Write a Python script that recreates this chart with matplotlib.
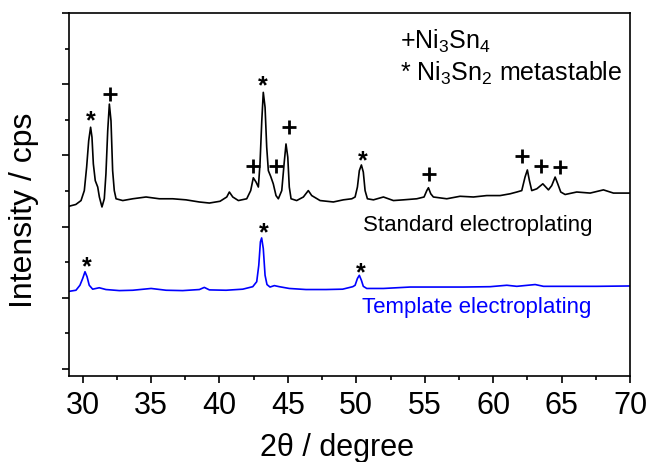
import matplotlib
matplotlib.use("Agg")
import matplotlib.pyplot as plt
from matplotlib.ticker import MultipleLocator

plt.rcParams['font.family'] = ['Liberation Sans', 'DejaVu Sans']
plt.rcParams['mathtext.fontset'] = 'custom'
plt.rcParams['mathtext.rm'] = 'Liberation Sans'
plt.rcParams['mathtext.it'] = 'Liberation Sans:italic'
plt.rcParams['mathtext.bf'] = 'Liberation Sans:bold'
plt.rcParams['mathtext.default'] = 'regular'

# ---- data ----
std_x = [29.0, 29.5, 29.88, 30.12, 30.29, 30.44, 30.58, 30.68, 30.78, 30.92, 31.1, 31.22,
         31.41, 31.58, 31.7, 31.83, 31.95, 32.07, 32.19, 32.31, 32.44, 32.93, 33.66, 34.63,
         35.6, 36.58, 37.55, 38.52, 39.26, 40.04, 40.53, 40.72, 40.97, 41.38, 41.99, 42.28,
         42.47, 42.67, 42.84, 42.96, 43.09, 43.2, 43.33, 43.45, 43.57, 43.74, 43.93, 44.13,
         44.3, 44.55, 44.72, 44.86, 44.99, 45.1, 45.23, 45.64, 46.13, 46.49, 46.74, 47.35,
         48.32, 49.05, 49.67, 49.91, 50.08, 50.22, 50.37, 50.51, 50.64, 50.81, 51.25, 51.98,
         52.71, 53.44, 54.42, 54.95, 55.15, 55.27, 55.44, 55.63, 56.61, 57.58, 58.56, 59.53,
         60.51, 61.24, 61.73, 62.09, 62.33, 62.5, 62.65, 62.82, 63.19, 63.63, 64.04, 64.28,
         64.53, 64.72, 64.94, 65.26, 66.11, 67.09, 68.06, 68.79, 69.77, 70.0]
std_y = [4.57, 4.62, 4.73, 5.01, 5.67, 6.41, 6.79, 6.51, 5.76, 5.29, 5.11, 4.83,
         4.55, 4.78, 5.48, 6.69, 7.44, 6.97, 5.57, 5.01, 4.78, 4.73, 4.78, 4.83,
         4.78, 4.78, 4.75, 4.69, 4.66, 4.71, 4.83, 4.97, 4.83, 4.73, 4.78, 5.01,
         5.37, 5.25, 5.11, 5.76, 6.97, 7.77, 7.35, 6.23, 5.57, 5.41, 5.2, 4.87,
         4.78, 5.01, 5.76, 6.32, 5.95, 5.11, 4.78, 4.73, 4.83, 5.01, 4.87, 4.73,
         4.69, 4.75, 4.78, 4.83, 5.11, 5.57, 5.73, 5.53, 5.01, 4.78, 4.75, 4.83,
         4.73, 4.75, 4.78, 4.83, 5.01, 5.09, 4.92, 4.83, 4.78, 4.85, 4.83, 4.87,
         4.87, 4.92, 4.97, 5.01, 5.39, 5.59, 5.29, 5.01, 5.06, 5.2, 5.03, 5.15,
         5.39, 5.2, 4.97, 4.9, 4.97, 4.94, 5.03, 4.94, 4.94, 4.94]

tpl_x = [29.02, 29.51, 29.8, 30.0, 30.17, 30.32, 30.48, 30.73, 31.21, 31.7, 32.68, 33.66,
         35.0, 36.1, 37.31, 38.53, 38.89, 39.26, 40.48, 41.7, 42.43, 42.72, 42.87, 42.99,
         43.08, 43.2, 43.33, 43.47, 43.69, 44.01, 44.37, 45.1, 46.32, 47.79, 49.0, 49.74,
         49.91, 50.08, 50.22, 50.37, 50.51, 50.76, 51.98, 53.93, 55.88, 57.82, 59.78, 61.0,
         61.73, 63.07, 63.68, 65.38, 67.57, 70.0]
tpl_y = [2.18, 2.21, 2.35, 2.54, 2.73, 2.59, 2.35, 2.24, 2.28, 2.23, 2.2, 2.21,
         2.26, 2.21, 2.2, 2.23, 2.29, 2.22, 2.21, 2.24, 2.31, 2.45, 2.91, 3.57,
         3.68, 3.38, 2.63, 2.37, 2.3, 2.34, 2.31, 2.26, 2.23, 2.23, 2.24, 2.31,
         2.35, 2.54, 2.63, 2.49, 2.32, 2.26, 2.26, 2.3, 2.3, 2.3, 2.31, 2.35,
         2.32, 2.37, 2.32, 2.32, 2.32, 2.33]

std_star_x = [30.6, 43.18, 50.47]
std_star_y = [7.16, 8.15, 6.04]
std_plus_x = [32.02, 42.43, 44.13, 45.1, 55.34, 62.14, 63.48, 64.89]
std_plus_y = [7.72, 5.69, 5.69, 6.79, 5.48, 5.99, 5.71, 5.67]
tpl_star_x = [30.29, 43.2, 50.34]
tpl_star_y = [3.05, 4.03, 2.89]

x_ticks = [30, 35, 40, 45, 50, 55, 60, 65, 70]

# ---- figure ----
fig = plt.figure(figsize=(6.49, 4.62), dpi=100)
ax = fig.add_axes([0.1063, 0.1861, 0.8644, 0.7858])

ax.plot(std_x, std_y, color='black', lw=1.2)
ax.plot(tpl_x, tpl_y, color='#0000ff', lw=1.2)

ax.plot(std_plus_x, std_plus_y, ls='none', marker='+', ms=10, mew=2.0, color='black')
for xs, ys in ((std_star_x, std_star_y), (tpl_star_x, tpl_star_y)):
    for x, y in zip(xs, ys):
        ax.annotate('*', (x, y), xytext=(0, -10.4), textcoords='offset points',
                    ha='center', va='baseline', fontsize=18, fontweight='bold',
                    color='black')

ax.text(53.2, 8.99, '+Ni$_3$Sn$_4$', fontsize=18, ha='left', va='baseline')
ax.text(53.2, 8.10, '* Ni$_3$Sn$_2$ metastable', fontsize=18, ha='left', va='baseline')
ax.text(50.49, 3.87, 'Standard electroplating', fontsize=16, ha='left', va='baseline',
        color='black')
ax.text(50.44, 1.57, 'Template electroplating', fontsize=16, ha='left', va='baseline',
        color='#0000ff')

ax.set_xlim(29, 70)
ax.set_ylim(-0.2, 10)
ax.set_xticks(x_ticks)
ax.xaxis.set_minor_locator(MultipleLocator(2.5))
ax.yaxis.set_major_locator(MultipleLocator(2))
ax.yaxis.set_minor_locator(MultipleLocator(1))
ax.tick_params(axis='both', which='major', direction='out', length=5, width=1.2,
               labelsize=22, pad=5.5)
ax.tick_params(axis='both', which='minor', direction='out', length=3, width=1.2)
ax.tick_params(axis='y', which='both', labelleft=False)
for s in ax.spines.values():
    s.set_linewidth(1.2)

ax.set_xlabel('2θ / degree', fontsize=22)
ax.xaxis.label.set_va('baseline')
ax.xaxis.set_label_coords(0.478, -0.2204)
ax.set_ylabel('Intensity / cps', fontsize=23)
ax.yaxis.label.set_va('baseline')
ax.yaxis.set_label_coords(-0.066, 0.457)

fig.savefig('out.png', dpi=100)
